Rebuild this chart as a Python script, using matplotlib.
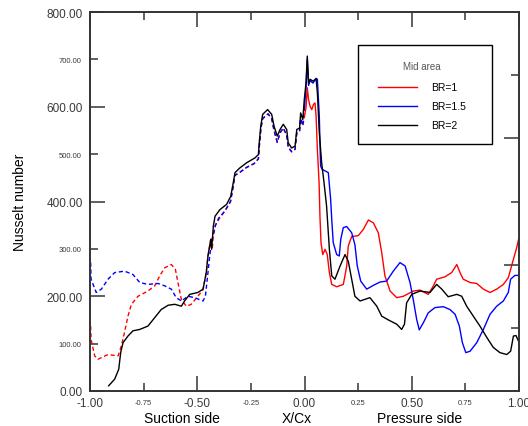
import numpy as np
import matplotlib
matplotlib.use("Agg")
from matplotlib import pyplot as plt
from matplotlib.ticker import FixedLocator, FormatStrFormatter
from matplotlib.patches import Rectangle
from matplotlib.lines import Line2D

plt.rcParams['font.family'] = ['Liberation Sans', 'DejaVu Sans']

# X/Cx positions and Nusselt numbers
x_br1 = [-0.997, -0.995, -0.978, -0.963, -0.916, -0.869, -0.854, -0.839, -0.823, -0.807,
         -0.776, -0.730, -0.698, -0.675, -0.652, -0.621, -0.602, -0.590, -0.574, -0.551,
         -0.528, -0.497, -0.473, -0.458, -0.450, -0.437, -0.430, -0.425, -0.415, -0.400,
         -0.371, -0.345, -0.333, -0.325, -0.300, -0.270, -0.235, -0.215, -0.210, -0.203,
         -0.195, -0.170, -0.153, -0.142, -0.127, -0.114, -0.099, -0.083, -0.076, -0.060,
         -0.044, -0.036, -0.023, -0.018, -0.008, 0.000, 0.007, 0.013, 0.019, 0.026,
         0.034, 0.042, 0.049, 0.054, 0.060, 0.068, 0.072, 0.077, 0.085, 0.096,
         0.106, 0.116, 0.127, 0.150, 0.181, 0.197, 0.204, 0.220, 0.251, 0.274,
         0.298, 0.321, 0.344, 0.360, 0.375, 0.399, 0.430, 0.461, 0.507, 0.538,
         0.577, 0.601, 0.616, 0.655, 0.686, 0.710, 0.725, 0.740, 0.772, 0.803,
         0.834, 0.865, 0.896, 0.927, 0.950, 0.974, 0.989, 1.000]
nu_br1 = [137, 109, 74, 67, 77, 74, 95, 124, 158, 183,
          200, 211, 222, 243, 260, 267, 257, 229, 193, 179,
          183, 200, 214, 250, 285, 320, 300, 330, 350, 362,
          380, 400, 430, 455, 462, 472, 480, 490, 520, 555,
          575, 585, 575, 550, 525, 545, 555, 540, 515, 505,
          510, 545, 548, 575, 560, 580, 598, 640, 615, 601,
          594, 605, 608, 580, 510, 440, 369, 313, 288, 299,
          288, 250, 225, 220, 225, 264, 306, 326, 328, 341,
          361, 355, 334, 292, 243, 211, 197, 200, 211, 213,
          204, 222, 236, 241, 250, 267, 250, 236, 229, 227,
          215, 208, 215, 225, 239, 278, 302, 324]

x_br15 = [-0.997, -0.995, -0.971, -0.947, -0.916, -0.885, -0.839, -0.800, -0.768, -0.730,
          -0.683, -0.652, -0.621, -0.598, -0.574, -0.543, -0.512, -0.473, -0.462, -0.450,
          -0.442, -0.431, -0.425, -0.415, -0.400, -0.371, -0.345, -0.333, -0.325, -0.300,
          -0.270, -0.235, -0.215, -0.210, -0.203, -0.195, -0.170, -0.153, -0.142, -0.127,
          -0.114, -0.099, -0.083, -0.076, -0.060, -0.044, -0.036, -0.023, -0.018, -0.008,
          0.000, 0.007, 0.013, 0.019, 0.026, 0.040, 0.054, 0.060, 0.069, 0.075,
          0.082, 0.111, 0.122, 0.127, 0.134, 0.150, 0.162, 0.169, 0.181, 0.197,
          0.220, 0.235, 0.246, 0.262, 0.290, 0.321, 0.352, 0.383, 0.414, 0.445,
          0.469, 0.492, 0.507, 0.523, 0.535, 0.554, 0.577, 0.608, 0.647, 0.678,
          0.702, 0.722, 0.736, 0.752, 0.772, 0.803, 0.834, 0.865, 0.896, 0.927,
          0.950, 0.961, 0.981, 1.000]
nu_br15 = [271, 236, 208, 215, 236, 250, 253, 246, 229, 225,
           227, 222, 215, 197, 190, 200, 197, 190, 200, 250,
           285, 320, 330, 350, 365, 380, 400, 430, 455, 462,
           472, 480, 490, 520, 555, 575, 585, 575, 550, 525,
           545, 555, 540, 515, 505, 510, 545, 548, 575, 560,
           600, 640, 700, 645, 655, 650, 660, 658, 580, 475,
           468, 461, 404, 362, 313, 288, 285, 320, 345, 347,
           334, 309, 264, 232, 215, 223, 230, 232, 253, 271,
           264, 229, 193, 151, 129, 144, 165, 176, 178, 172,
           162, 137, 102, 81, 84, 102, 130, 162, 179, 190,
           208, 236, 244, 244]

x_br2 = [-0.913, -0.885, -0.866, -0.857, -0.846, -0.823, -0.800, -0.768, -0.730, -0.698,
         -0.668, -0.636, -0.605, -0.574, -0.559, -0.535, -0.497, -0.473, -0.458, -0.450,
         -0.437, -0.433, -0.425, -0.417, -0.394, -0.363, -0.344, -0.332, -0.324, -0.301,
         -0.269, -0.231, -0.215, -0.211, -0.204, -0.195, -0.172, -0.153, -0.142, -0.127,
         -0.114, -0.099, -0.083, -0.076, -0.060, -0.044, -0.036, -0.023, -0.018, -0.008,
         -0.001, 0.007, 0.013, 0.019, 0.026, 0.040, 0.054, 0.060, 0.069, 0.080,
         0.091, 0.103, 0.116, 0.127, 0.142, 0.166, 0.189, 0.204, 0.220, 0.235,
         0.259, 0.305, 0.337, 0.360, 0.391, 0.430, 0.453, 0.466, 0.476, 0.500,
         0.538, 0.585, 0.616, 0.640, 0.670, 0.710, 0.733, 0.756, 0.787, 0.818,
         0.850, 0.880, 0.911, 0.943, 0.961, 0.974, 0.986, 0.998]
nu_br2 = [11, 25, 46, 81, 102, 116, 127, 130, 137, 155,
          172, 181, 183, 179, 190, 204, 208, 215, 250, 285,
          320, 299, 348, 369, 383, 394, 411, 440, 461, 471,
          482, 492, 499, 524, 559, 584, 594, 584, 559, 538,
          552, 563, 552, 524, 513, 517, 552, 555, 587, 573,
          615, 650, 707, 650, 658, 654, 659, 630, 545, 482,
          440, 390, 299, 243, 236, 264, 288, 274, 236, 200,
          190, 197, 179, 158, 150, 141, 130, 141, 186, 204,
          211, 208, 225, 215, 199, 204, 200, 179, 158, 137,
          113, 92, 81, 77, 84, 116, 117, 105]

W, H = 528, 427
fig = plt.figure(figsize=(W / 100, H / 100), dpi=100)
ax = fig.add_axes([90 / W, 35 / H, 429 / W, 379 / H])

x1, v1 = np.array(x_br1), np.array(nu_br1)
x15, v15 = np.array(x_br15), np.array(nu_br15)

# suction side dashed, pressure side solid
ax.plot(x1[x1 <= 0], v1[x1 <= 0], color='#ff0000', lw=1.0, dashes=(3, 2))
ax.plot(x15[x15 <= 0], v15[x15 <= 0], color='#0000ff', lw=1.0, dashes=(3, 2))
l1, = ax.plot(x1[x1 >= 0], v1[x1 >= 0], color='#ff0000', lw=1.0, label='BR=1')
l2, = ax.plot(x15[x15 >= 0], v15[x15 >= 0], color='#0000ff', lw=1.0, label='BR=1.5')
l3, = ax.plot(x_br2, nu_br2, color='black', lw=1.0, label='BR=2')

ax.set_xlim(-1, 1)
ax.set_ylim(0, 800)

tick_col = '#3a3a3a'
ax.xaxis.set_major_locator(FixedLocator([-1, -0.5, 0, 0.5, 1]))
ax.xaxis.set_minor_locator(FixedLocator([-0.75, -0.25, 0.25, 0.75]))
ax.yaxis.set_major_locator(FixedLocator([0, 200, 400, 600, 800]))
ax.yaxis.set_minor_locator(FixedLocator([100, 300, 500, 700]))
for axis in (ax.xaxis, ax.yaxis):
    axis.set_major_formatter(FormatStrFormatter('%.2f'))
    axis.set_minor_formatter(FormatStrFormatter('%.2f'))
ax.tick_params(which='major', direction='in', length=11, width=1.2,
               labelsize=8.5, colors='#444444', labelcolor=tick_col, pad=5)
ax.tick_params(which='minor', direction='in', length=6, width=1.2,
               labelsize=5.5, colors='#444444', labelcolor=tick_col, pad=6)
ax.tick_params(axis='x', which='both', top=True, pad=4)
ax.tick_params(axis='x', which='minor', pad=6)

ax2 = ax.twinx()
ax2.set_ylim(0, 800)
ax2.yaxis.set_major_locator(FixedLocator([800 / 3, 1600 / 3]))
ax2.yaxis.set_minor_locator(FixedLocator([800 / 6, 400, 4000 / 6]))
ax2.tick_params(which='major', direction='in', length=11, width=1.2, colors='#444444',
                labelright=False)
ax2.tick_params(which='minor', direction='in', length=6, width=1.2, colors='#444444',
                labelright=False)

for a in (ax, ax2):
    for s in a.spines.values():
        s.set_linewidth(1.2)
        s.set_color('#333333')

ax.set_ylabel('Nusselt number', fontsize=10, labelpad=14)
fig.text(182 / W, 1 - 419 / H, 'Suction side', fontsize=10, ha='center', va='center')
fig.text(297 / W, 1 - 419 / H, 'X/Cx', fontsize=10, ha='center', va='center')
fig.text(420 / W, 1 - 419 / H, 'Pressure side', fontsize=10, ha='center', va='center')

# legend box drawn by hand so its size matches the original
fig.add_artist(Rectangle((358 / W, 1 - 145 / H), 134 / W, 99.5 / H,
                         transform=fig.transFigure, facecolor='white',
                         edgecolor='black', lw=1.0))
fig.text(422 / W, 1 - 67 / H, 'Mid area', fontsize=7, color='#555555',
         ha='center', va='center')
for row, line in zip([88, 107, 126], [l1, l2, l3]):
    yy = 1 - row / H
    fig.add_artist(Line2D([378 / W, 417 / W], [yy, yy], transform=fig.transFigure,
                          color=line.get_color(), lw=1.0))
    fig.text(431 / W, yy, line.get_label(), fontsize=7.5, ha='left', va='center')

fig.savefig('out.png', dpi=100)
